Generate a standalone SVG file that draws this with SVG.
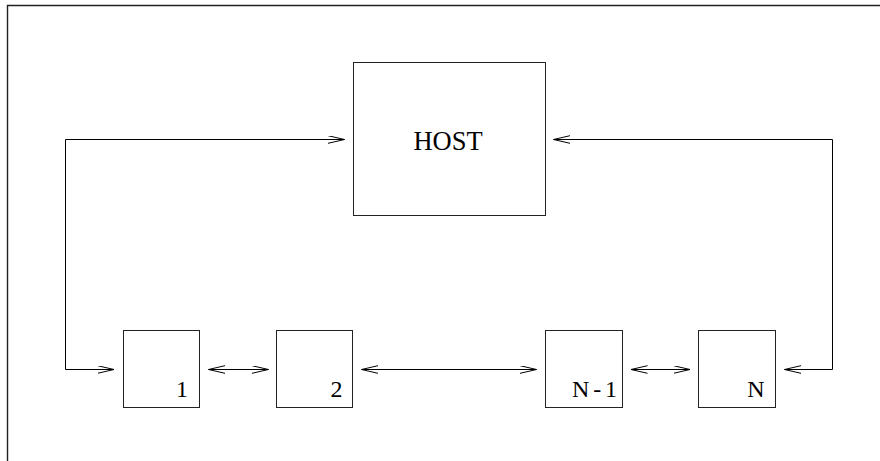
<svg xmlns="http://www.w3.org/2000/svg" width="880" height="461" viewBox="0 0 880 461">
<style>
.box{fill:#fff;stroke:#222;stroke-width:1}
.conn{fill:none;stroke:#000;stroke-width:1;marker-start:url(#ah);marker-end:url(#ah)}
.lbl{fill:#000;text-anchor:middle}
</style>
<defs>
<marker id="ah" markerUnits="userSpaceOnUse" markerWidth="18" markerHeight="10" refX="16.5" refY="4" orient="auto-start-reverse" viewBox="0 0 18 10">
<path d="M0,0.2 L16.5,4 L0,7.8" fill="none" stroke="#000" stroke-width="1"/>
</marker>
</defs>
<rect width="880" height="461" fill="#fff"/>
<g id="frame">
<path d="M7.5,461 V5.5 H880" fill="none" stroke="#222" stroke-width="1.4"/>
</g>
<g id="connectors">
<path class="conn" d="M114,369.5 H65.5 V139.5 H344.5"/>
<path class="conn" d="M553.5,139.5 H832.5 V369.5 H784.5"/>
<path class="conn" d="M208.5,369.5 H268.5"/>
<path class="conn" d="M361.5,369.5 H536.5"/>
<path class="conn" d="M631,369.5 H690"/>
</g>
<g id="host">
<rect class="box" x="353.5" y="62.5" width="192" height="153"/>
<text class="lbl" x="448" y="150" font-family="Liberation Serif, serif" font-size="26.5">HOST</text>
</g>
<g id="node1">
<rect class="box" x="123.5" y="330.5" width="76" height="77"/>
<text class="lbl" x="182" y="397" font-family="Liberation Serif, serif" font-size="24">1</text>
</g>
<g id="node2">
<rect class="box" x="276.5" y="330.5" width="76" height="77"/>
<text class="lbl" x="336.5" y="397" font-family="Liberation Serif, serif" font-size="24">2</text>
</g>
<g id="nodeN-1">
<rect class="box" x="545.5" y="330.5" width="77" height="77"/>
<text class="lbl" x="594.5" y="397" font-family="Liberation Serif, serif" font-size="24" textLength="45" lengthAdjust="spacing">N-1</text>
</g>
<g id="nodeN">
<rect class="box" x="698.5" y="330.5" width="77" height="77"/>
<text class="lbl" x="756" y="397" font-family="Liberation Serif, serif" font-size="24">N</text>
</g>
</svg>
